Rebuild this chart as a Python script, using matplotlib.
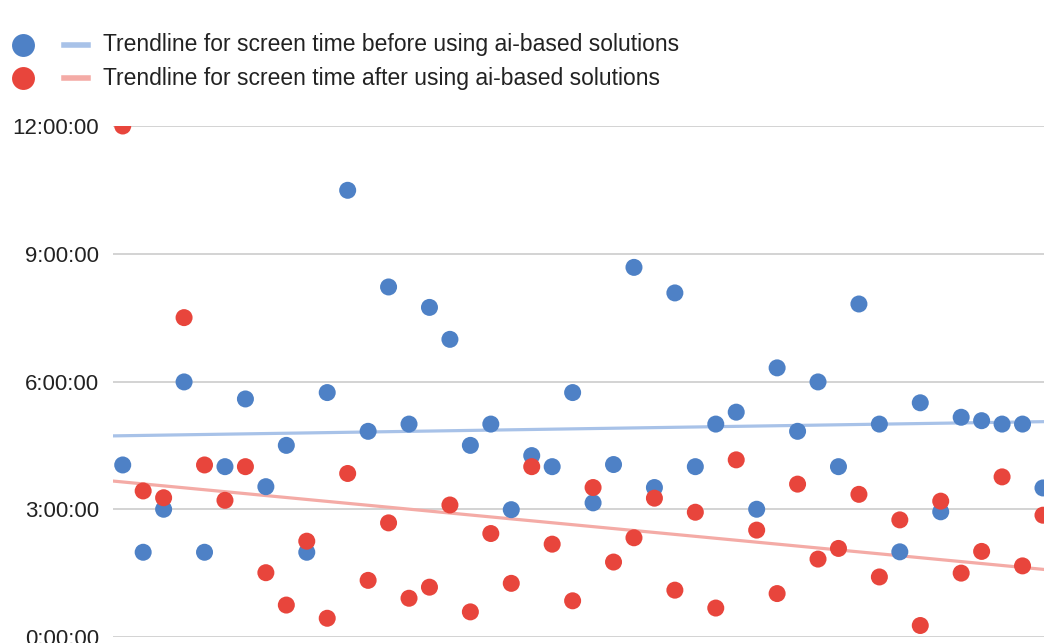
import numpy as np
import matplotlib.pyplot as plt
from matplotlib.lines import Line2D

# screen time per respondent, in hours
avant = [4.04, 1.99, 3.0, 5.99, 1.99, 4.0, 5.59, 3.53, 4.5, 1.99, 5.74, 10.49,
         4.83, 8.22, 5.0, 7.74, 6.99, 4.5, 5.0, 2.99, 4.26, 4.0, 5.74, 3.15,
         4.05, 8.68, 3.51, 8.08, 4.0, 5.0, 5.28, 3.0, 6.32, 4.83, 5.99, 4.0,
         7.82, 5.0, 2.0, 5.5, 2.94, 5.16, 5.08, 5.0, 5.0, 3.5]
apres = [12.0, 3.43, 3.27, 7.5, 4.04, 3.21, 4.0, 1.51, 0.75, 2.25, 0.44, 3.84,
         1.33, 2.68, 0.91, 1.17, 3.1, 0.59, 2.43, 1.26, 4.0, 2.18, 0.85, 3.51,
         1.76, 2.33, 3.26, 1.1, 2.93, 0.68, 4.16, 2.51, 1.02, 3.59, 1.83, 2.08,
         3.35, 1.41, 2.75, 0.27, 3.19, 1.5, 2.01, 3.76, 1.67, 2.86]
graduations = [0, 3, 6, 9, 12]
etiquettes = ["0:00:00", "3:00:00", "6:00:00", "9:00:00", "12:00:00"]
legende = ["Trendline for screen time before using ai-based solutions",
           "Trendline for screen time after using ai-based solutions"]

bleu = "#4e81c6"
rouge = "#e8453c"
bleu_clair = "#a8c2e8"
rouge_clair = "#f4aba6"

plt.rcParams['font.family'] = ['Liberation Sans', 'DejaVu Sans']

fig = plt.figure(figsize=(10.44, 6.43), dpi=100)
ax = fig.add_axes([112.7 / 1044, 6 / 643, 1 - 112.7 / 1044, 511 / 643])

x = np.arange(len(avant))
xmin, xmax = -0.49, 45.05

# droites de tendance (régression linéaire)
for serie, couleur in [(avant, bleu_clair), (apres, rouge_clair)]:
    pente, origine = np.polyfit(x, serie, 1)
    xx = np.array([xmin, xmax])
    ax.plot(xx, pente * xx + origine, color=couleur, lw=2.3, zorder=2)

ax.scatter(x, avant, s=150, color=bleu, edgecolors='none', zorder=3)
ax.scatter(x, apres, s=150, color=rouge, edgecolors='none', zorder=4)

ax.set_xlim(xmin, xmax)
ax.set_ylim(0, 12)
ax.set_yticks(graduations)
ax.set_yticklabels(etiquettes, fontsize=16, color="#222222")
ax.set_xticks([])
ax.tick_params(axis='y', length=0, pad=10)
ax.grid(axis='y', color="#cccccc", lw=1.2)
ax.set_axisbelow(True)
for cote in ax.spines.values():
    cote.set_visible(False)

# légende dessinée à la main en haut à gauche
for ligne_y, couleur, couleur_claire, texte in [(45, bleu, bleu_clair, legende[0]),
                                                (78, rouge, rouge_clair, legende[1])]:
    yf = 1 - ligne_y / 643
    fig.add_artist(Line2D([23 / 1044], [yf], marker='o', markersize=16.5,
                          color=couleur, markeredgewidth=0, transform=fig.transFigure))
    fig.add_artist(Line2D([64 / 1044, 88 / 1044], [yf, yf], color=couleur_claire,
                          lw=4, transform=fig.transFigure))
    fig.text(103 / 1044, yf, texte, fontsize=16.5, color="#222222", va='center')

fig.savefig("out.png", dpi=100)
